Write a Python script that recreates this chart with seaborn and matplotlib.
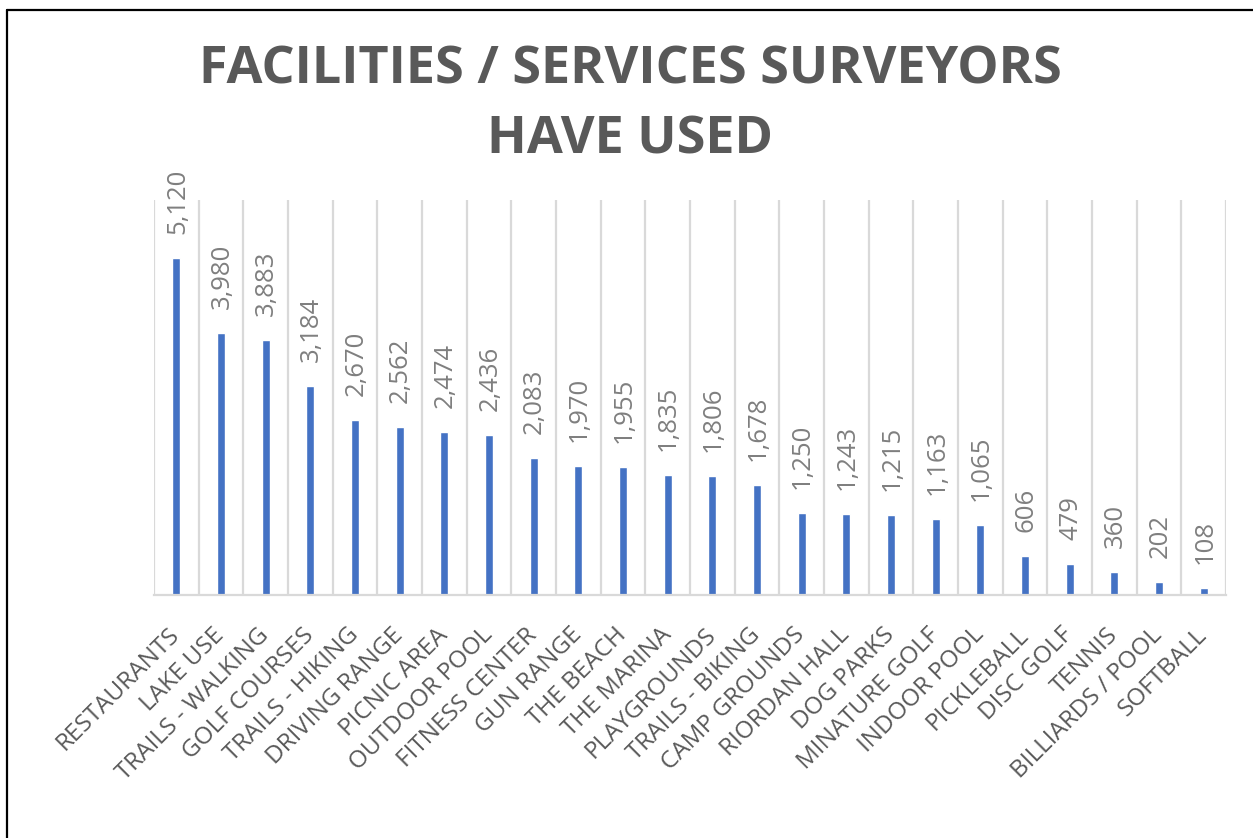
import matplotlib
matplotlib.use("Agg")
import matplotlib.pyplot as plt
from matplotlib.lines import Line2D
import seaborn as sns
import pandas as pd

categories = [
    "RESTAURANTS", "LAKE USE", "TRAILS - WALKING", "GOLF COURSES",
    "TRAILS - HIKING", "DRIVING RANGE", "PICNIC AREA", "OUTDOOR POOL",
    "FITNESS CENTER", "GUN RANGE", "THE BEACH", "THE MARINA",
    "PLAYGROUNDS", "TRAILS - BIKING", "CAMP GROUNDS", "RIORDAN HALL",
    "DOG PARKS", "MINATURE GOLF", "INDOOR POOL", "PICKLEBALL",
    "DISC GOLF", "TENNIS", "BILLIARDS / POOL", "SOFTBALL",
]
counts = [
    5120, 3980, 3883, 3184, 2670, 2562, 2474, 2436, 2083, 1970, 1955, 1835,
    1806, 1678, 1250, 1243, 1215, 1163, 1065, 606, 479, 360, 202, 108,
]
title = "FACILITIES / SERVICES SURVEYORS\nHAVE USED"

df = pd.DataFrame({"facility": categories, "count": counts})

sns.set_theme(style="white")
plt.rcParams["font.family"] = ["Open Sans", "DejaVu Sans"]

BAR = "#4472C4"
GRID = "#D9D9D9"
DARK = "#595959"
LIGHT = "#7F7F7F"

fig = plt.figure(figsize=(12.53, 8.38), dpi=100)
ax = fig.add_axes([0.1229, 0.2894, 0.8556, 0.4719])

sns.barplot(data=df, x="facility", y="count", color=BAR, width=0.18,
            saturation=1, ax=ax)

n = len(categories)
ax.set_xlim(-0.5, n - 0.5)
ax.set_ylim(0, 6000)
ax.set_xlabel("")
ax.set_ylabel("")
ax.set_yticks([])

# vertical separators between categories
ax.set_xticks([i - 0.5 for i in range(n + 1)], minor=True)
ax.grid(which="minor", axis="x", color=GRID, linewidth=1.6)
ax.grid(which="major", visible=False)
ax.tick_params(axis="x", which="minor", length=0)
ax.tick_params(axis="x", which="major", length=0, pad=26)

for side in ["top", "right", "left"]:
    ax.spines[side].set_visible(False)
ax.spines["bottom"].set_color(GRID)
ax.spines["bottom"].set_linewidth(1.6)

ax.set_xticks(range(n))
ax.set_xticklabels(categories, rotation=45, ha="right", va="center",
                   rotation_mode="anchor", fontsize=17.5, color=DARK)

for i, v in enumerate(counts):
    ax.annotate(f"{v:,}", xy=(i, v), xytext=(1, 24),
                textcoords="offset pixels", rotation=90,
                ha="center", va="bottom", fontsize=18.5, color=LIGHT)

fig.text(0.503, 0.875, title, ha="center", va="center", fontsize=37.5,
         fontweight="bold", color=DARK, linespacing=1.42)

# frame edges along the top and left
fig.add_artist(Line2D([0.0055, 1.0], [0.9885, 0.9885], color="black",
                      linewidth=1.6, transform=fig.transFigure))
fig.add_artist(Line2D([0.0055, 0.0055], [0.0, 0.9885], color="black",
                      linewidth=1.6, transform=fig.transFigure))

fig.savefig("out.png", dpi=100, facecolor="white")
